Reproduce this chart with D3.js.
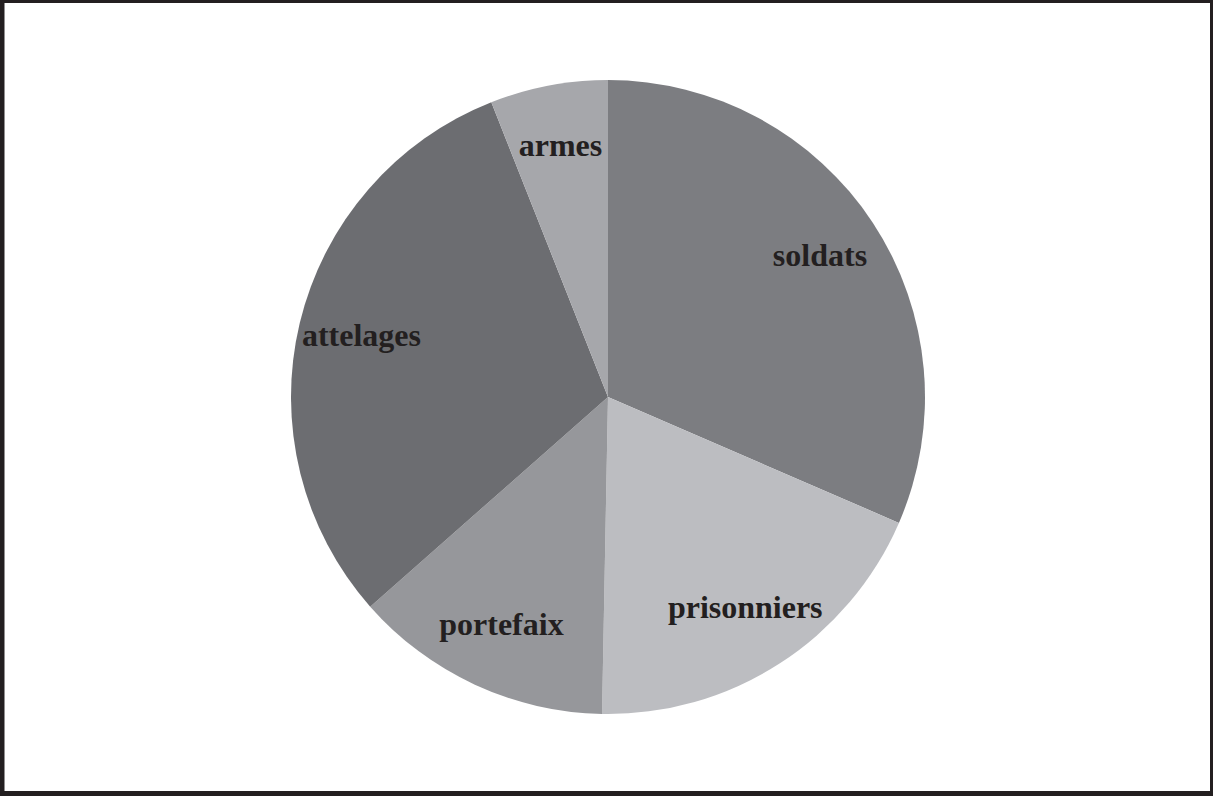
<!DOCTYPE html>
<html lang="fr">
<head>
    <meta charset="UTF-8">
    <title>Répartition</title>
    <script src="https://d3js.org/d3.v7.min.js"></script>
    <style>
        body {
            margin: 0;
            background: #ffffff;
        }

        .label {
            font-family: "Liberation Serif", "Times New Roman", serif;
            font-weight: bold;
            font-size: 32px;
            fill: #231f20;
            text-anchor: middle;
        }
    </style>
</head>
<body>
    <script>
        const categories = ["soldats", "prisonniers", "portefaix", "attelages", "armes"];
        const values = [31.5, 18.8, 13.2, 30.5, 6.0];
        const colors = ["#7c7d81", "#bcbdc1", "#96979b", "#6c6d71", "#a6a7ab"];

        const width = 1213;
        const height = 796;
        const radius = 317;

        const svg = d3.select("body").append("svg")
            .attr("width", width)
            .attr("height", height);

        // frame
        svg.append("rect")
            .attr("x", 0).attr("y", 0)
            .attr("width", width).attr("height", height)
            .attr("fill", "#231f20");
        svg.append("rect")
            .attr("x", 4.5).attr("y", 3)
            .attr("width", width - 7.5).attr("height", height - 8)
            .attr("fill", "#ffffff");

        const data = categories.map((c, i) => ({ name: c, value: values[i] }));

        const pie = d3.pie()
            .sort(null)
            .value(d => d.value);

        const arc = d3.arc()
            .innerRadius(0)
            .outerRadius(radius);

        const labelArc = d3.arc()
            .innerRadius(radius * 0.8)
            .outerRadius(radius * 0.8);

        const color = d3.scaleOrdinal()
            .domain(categories)
            .range(colors);

        const g = svg.append("g")
            .attr("transform", `translate(${width / 2 + 1.5},${height / 2 - 1})`);

        const arcs = pie(data);

        g.selectAll("path")
            .data(arcs)
            .enter().append("path")
            .attr("d", arc)
            .attr("fill", d => color(d.data.name));

        g.selectAll("text")
            .data(arcs)
            .enter().append("text")
            .attr("class", "label")
            .attr("transform", d => `translate(${labelArc.centroid(d)})`)
            .attr("dy", "0.25em")
            .text(d => d.data.name);
    </script>
</body>
</html>
